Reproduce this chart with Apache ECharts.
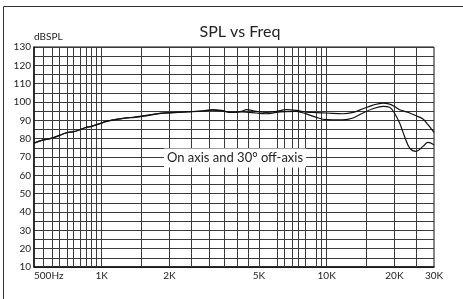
<!DOCTYPE html>
<html>
<head>
<meta charset="utf-8">
<script src="https://cdn.jsdelivr.net/npm/echarts@6/dist/echarts.min.js"></script>
<style>html,body{margin:0;padding:0;background:#fff;}#c{width:463px;height:299px;}</style>
</head>
<body>
<div id="c"></div>
<script>
// Frequencies (Hz)
const freqs = [500,550,600,650,700,750,800,850,900,980,1050,1160,1290,1400,1600,1840,2110,2420,2770,3120,3400,3770,4180,4400,4870,5390,5970,6620,7330,8120,9000,9970,11800,13100,14500,16050,17800,19050,20000,21100,22200,23400,25000,26800,28200,30000];
// On-axis response (dBSPL)
const onAxis = [77.6,79.3,80.3,81.8,83.3,83.8,84.9,86.1,86.7,88.2,89.4,90.5,91.3,91.8,92.8,94.0,94.3,94.7,95.1,95.8,95.4,94.4,94.9,95.8,94.9,94.3,94.9,95.8,95.4,94.5,94.2,94.0,93.6,94.3,96.3,98.3,99.4,98.8,97.6,95.8,94.9,94.0,92.5,90.7,87.6,83.4];
// 30 degree off-axis response (dBSPL)
const offAxis = [77.6,79.3,80.3,81.8,83.3,83.8,84.9,86.1,86.7,88.2,89.4,90.5,91.3,91.6,92.6,93.8,94.2,94.6,95.0,95.5,95.2,94.3,94.6,94.5,94.0,93.6,94.3,94.7,94.9,93.5,91.6,90.4,90.3,91.3,94.0,96.3,97.6,97.1,94.0,88.5,81.2,74.9,73.1,75.8,78.0,76.7];
// Vertical grid line frequencies
const gridFreqs = [550,600,650,700,750,800,850,900,950,1000,1500,2000,2500,3000,3500,4000,4500,5000,6000,6500,7000,7500,8000,9000,9500,10000,15000,20000,25000];
// X tick labels
const xTickValues = [500,1000,2000,5000,10000,20000,30000];
const xTickLabels = ['500Hz','1K','2K','5K','10K','20K','30K'];

const FONT = 'Lato';
const chart = echarts.init(document.getElementById('c'), null, {renderer:'canvas'});
const pair = (arr) => freqs.map((f,i)=>[f, arr[i]]);

chart.setOption({
  animation:false,
  backgroundColor:'#fff',
  title:{
    text:'SPL vs Freq', left:235, top:19, textAlign:'center',
    textStyle:{fontFamily:FONT, fontSize:16, fontWeight:'normal', color:'#222'}
  },
  grid:{left:34, top:47, width:400, height:220, show:true, borderColor:'#111', borderWidth:1, backgroundColor:'transparent'},
  xAxis:{
    type:'log', logBase:10, min:500, max:30000,
    axisLine:{show:true, onZero:false, lineStyle:{color:'#111', width:1.5}},
    axisTick:{show:false},
    splitLine:{show:false},
    minorSplitLine:{show:false},
    axisLabel:{
      customValues:xTickValues,
      formatter:(v)=>{const i = xTickValues.findIndex(t=>Math.abs(t-v)/t<0.01); return i>=0?xTickLabels[i]:'';},
      fontFamily:FONT, fontSize:10, color:'#222', margin:4,
      alignMinLabel:'left', showMinLabel:true, showMaxLabel:true
    }
  },
  yAxis:{
    type:'value', min:10, max:130, interval:5,
    name:'dBSPL', nameLocation:'end', nameGap:2,
    nameTextStyle:{fontFamily:FONT, fontSize:10, color:'#222', align:'left', verticalAlign:'bottom'},
    axisLine:{show:true, lineStyle:{color:'#111', width:1.5}},
    axisTick:{show:false},
    splitLine:{show:true, lineStyle:{color:'#3a3a3a', width:1}},
    axisLabel:{
      formatter:(v)=> (v%10===0? String(v) : ''),
      fontFamily:FONT, fontSize:10, color:'#222', margin:3
    }
  },
  series:[
    {
      type:'line', data:[], z:1, silent:true,
      markLine:{
        silent:true, symbol:'none', animation:false,
        label:{show:false},
        lineStyle:{type:'solid', color:'#3a3a3a', width:1},
        data: gridFreqs.map(f=>({xAxis:f}))
      }
    },
    {
      name:'On axis', type:'line', data:pair(onAxis), z:5,
      showSymbol:false, smooth:0.35,
      lineStyle:{color:'#111', width:1.2}
    },
    {
      name:'30° off-axis', type:'line', data:pair(offAxis), z:5,
      showSymbol:false, smooth:0.35,
      lineStyle:{color:'#111', width:1.2}
    }
  ],
  graphic:[
    {type:'rect', shape:{x:3.5, y:6.5, width:480, height:320}, style:{fill:'none', stroke:'#333', lineWidth:1}, z:100},
    {type:'text', x:235, y:158, z:100,
      style:{text:'On axis and 30° off-axis', fill:'#222', font:'13px Lato', textAlign:'center', textVerticalAlign:'middle', backgroundColor:'#fff', padding:[3,3,3,3]}}
  ]
});
</script>
</body>
</html>
